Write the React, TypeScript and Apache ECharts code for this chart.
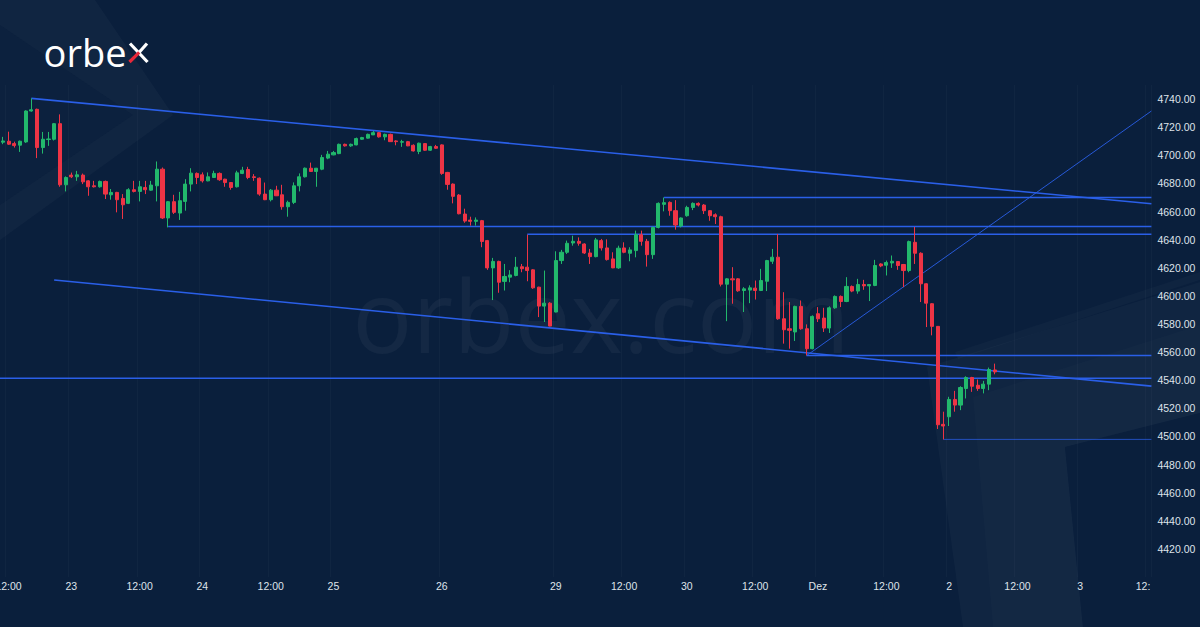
import React, { useEffect, useRef } from 'react';
import * as echarts from 'echarts';

// ---- time axis (hourly candles) ----
const DAY_NAMES = ['22', '23', '24', '25', '26', '29', '30', 'Dez', '2', '3'];
const DAY_FIRST_HOUR = [11, 0, 0, 0, 0, 0, 0, 0, 0, 0];
const DAY_HOURS = [12, 23, 23, 19, 20, 23, 23, 23, 23, 13];

// category -> visible tick label
const TICK_CATEGORIES = ['22 12:00', '23 00:00', '23 12:00', '24 00:00', '24 12:00', '25 00:00', '26 00:00', '29 00:00', '29 12:00', '30 00:00', '30 12:00', 'Dez 00:00', 'Dez 12:00', '2 00:00', '2 12:00', '3 00:00', '3 12:00'];
const TICK_TEXTS = ['12:00', '23', '12:00', '24', '12:00', '25', '26', '29', '12:00', '30', '12:00', 'Dez', '12:00', '2', '12:00', '3', '12:'];

// ---- price ticks ----
const Y_MIN = 4400;
const Y_MAX = 4750;
const Y_STEP = 20;

// ---- OHLC ----
const OPEN = [
  4709.3, 4710.0, 4708.3, 4707.2, 4709.5, 4731.5, 4732.7, 4705.5, 4711.2, 4711.4,
  4722.5, 4679.0, 4685.9, 4684.7, 4685.9, 4681.8, 4678.3, 4677.6, 4681.4, 4671.9,
  4673.6, 4669.3, 4665.8, 4675.5, 4674.3, 4677.1, 4675.2, 4678.3, 4690.1, 4655.4,
  4667.0, 4658.9, 4667.2, 4679.5, 4687.1, 4686.1, 4681.8, 4684.2, 4687.1, 4683.0,
  4680.6, 4677.6, 4687.1, 4689.9, 4684.7, 4683.7, 4672.4, 4668.4, 4675.2, 4671.9,
  4663.4, 4666.5, 4678.3, 4684.7, 4690.8, 4688.5, 4690.1, 4698.0, 4700.3, 4701.2,
  4707.8, 4706.7, 4707.4, 4711.4, 4712.2, 4714.5, 4716.1, 4713.1, 4714.9, 4710.2,
  4709.3, 4709.7, 4707.1, 4702.7, 4708.3, 4703.6, 4706.2, 4707.4, 4687.8, 4679.5,
  4671.7, 4658.2, 4653.9, 4653.0, 4653.5, 4639.3, 4619.9, 4624.5, 4610.3, 4613.3,
  4614.5, 4620.7, 4620.4, 4618.5, 4606.2, 4592.7, 4594.8, 4588.5, 4625.1, 4631.0,
  4637.6, 4638.8, 4636.9, 4630.5, 4627.9, 4639.3, 4634.1, 4626.3, 4619.9, 4634.1,
  4630.3, 4632.2, 4643.5, 4638.8, 4629.3, 4648.7, 4665.1, 4666.5, 4660.6, 4649.7,
  4657.0, 4662.9, 4665.8, 4664.6, 4660.6, 4657.7, 4656.3, 4608.3, 4612.1, 4612.1,
  4603.8, 4604.1, 4605.5, 4603.8, 4610.4, 4624.6, 4627.5, 4583.7, 4576.6, 4574.3,
  4592.5, 4576.6, 4562.4, 4587.3, 4584.2, 4577.1, 4591.5, 4599.6, 4596.0, 4606.7,
  4603.4, 4608.1, 4607.1, 4607.4, 4622.7, 4621.8, 4623.4, 4624.4, 4622.3, 4618.0,
  4638.1, 4630.3, 4608.6, 4594.4, 4578.3, 4508.6, 4514.0, 4526.3, 4522.3, 4534.1,
  4541.9, 4536.4, 4534.1, 4537.2, 4547.3,
];
const CLOSE = [
  4710.2, 4707.9, 4706.9, 4710.0, 4731.5, 4732.4, 4705.5, 4711.4, 4711.6, 4722.5,
  4679.0, 4684.2, 4684.7, 4686.1, 4681.1, 4677.6, 4677.6, 4681.4, 4672.4, 4673.6,
  4668.4, 4664.8, 4675.5, 4674.3, 4677.6, 4675.5, 4678.8, 4690.1, 4655.4, 4667.0,
  4659.4, 4667.7, 4679.5, 4687.3, 4684.2, 4681.8, 4684.7, 4687.1, 4682.6, 4680.6,
  4677.1, 4687.5, 4689.4, 4684.2, 4684.2, 4672.4, 4668.4, 4675.2, 4671.2, 4663.4,
  4666.5, 4678.3, 4684.7, 4690.8, 4688.5, 4690.8, 4698.4, 4700.8, 4701.9, 4707.8,
  4706.7, 4707.8, 4711.9, 4712.6, 4714.9, 4716.1, 4713.1, 4714.9, 4709.7, 4709.7,
  4709.7, 4706.7, 4703.1, 4708.6, 4703.6, 4706.2, 4705.0, 4687.1, 4679.3, 4670.8,
  4658.4, 4653.2, 4653.0, 4653.9, 4638.7, 4619.9, 4624.5, 4609.7, 4613.8, 4614.9,
  4620.4, 4619.3, 4618.0, 4605.7, 4592.7, 4594.8, 4578.5, 4625.1, 4631.0, 4637.4,
  4638.8, 4637.4, 4630.5, 4627.9, 4639.8, 4634.1, 4625.8, 4619.9, 4633.9, 4631.0,
  4632.7, 4643.5, 4638.8, 4629.3, 4648.7, 4665.8, 4666.3, 4660.6, 4650.4, 4655.4,
  4662.9, 4665.8, 4664.6, 4660.6, 4657.0, 4656.3, 4608.3, 4612.1, 4611.4, 4603.6,
  4605.0, 4605.7, 4603.8, 4610.9, 4625.1, 4627.5, 4583.7, 4575.9, 4575.5, 4592.5,
  4576.6, 4562.4, 4585.4, 4583.7, 4577.1, 4591.5, 4599.6, 4596.0, 4606.7, 4603.4,
  4608.1, 4607.1, 4608.1, 4621.6, 4621.3, 4623.7, 4624.6, 4621.6, 4618.0, 4638.6,
  4630.3, 4608.6, 4594.8, 4578.3, 4508.3, 4507.4, 4526.3, 4522.3, 4534.8, 4541.9,
  4535.7, 4534.1, 4537.2, 4547.6, 4545.9,
];
const LOW = [
  4707.9, 4707.4, 4705.5, 4702.4, 4708.8, 4731.0, 4698.0, 4701.2, 4706.7, 4710.5,
  4677.6, 4674.3, 4683.8, 4681.8, 4679.5, 4671.2, 4677.1, 4677.0, 4668.9, 4668.4,
  4659.4, 4654.7, 4665.3, 4673.6, 4667.2, 4672.4, 4674.8, 4667.2, 4654.7, 4648.7,
  4658.2, 4654.0, 4660.6, 4674.3, 4679.5, 4680.6, 4681.5, 4684.0, 4681.8, 4677.6,
  4675.5, 4677.1, 4686.6, 4683.0, 4681.8, 4671.2, 4668.1, 4667.2, 4671.0, 4661.3,
  4656.3, 4665.3, 4674.3, 4684.2, 4688.2, 4677.6, 4689.4, 4697.2, 4700.0, 4700.8,
  4706.2, 4706.0, 4707.1, 4710.9, 4711.9, 4714.5, 4712.6, 4710.7, 4709.5, 4707.1,
  4706.0, 4706.5, 4702.7, 4700.8, 4703.1, 4703.1, 4704.5, 4686.1, 4675.5, 4665.8,
  4658.0, 4652.0, 4650.0, 4650.0, 4634.6, 4618.5, 4597.0, 4602.2, 4603.8, 4609.7,
  4613.9, 4616.8, 4610.4, 4605.0, 4584.9, 4581.4, 4578.3, 4588.3, 4622.7, 4629.8,
  4635.7, 4635.7, 4629.8, 4622.7, 4627.4, 4632.2, 4625.1, 4619.7, 4619.2, 4630.3,
  4624.6, 4627.4, 4635.7, 4620.8, 4626.3, 4648.0, 4660.1, 4657.0, 4647.1, 4648.7,
  4656.3, 4661.0, 4663.6, 4658.2, 4653.4, 4651.1, 4606.7, 4582.0, 4594.4, 4602.9,
  4588.5, 4594.8, 4597.4, 4603.4, 4603.4, 4622.7, 4583.0, 4566.0, 4562.4, 4567.9,
  4575.9, 4557.7, 4562.0, 4581.4, 4574.3, 4573.6, 4590.8, 4592.0, 4595.5, 4602.6,
  4601.5, 4604.3, 4596.3, 4606.9, 4620.4, 4614.5, 4619.9, 4618.5, 4606.2, 4616.8,
  4622.7, 4595.6, 4577.8, 4571.9, 4505.3, 4497.9, 4507.4, 4517.6, 4518.7, 4527.0,
  4531.7, 4532.4, 4530.6, 4532.9, 4544.2,
];
const HIGH = [
  4713.1, 4716.8, 4709.7, 4710.5, 4732.0, 4740.5, 4733.2, 4716.6, 4716.6, 4723.0,
  4729.1, 4685.0, 4687.7, 4688.9, 4687.0, 4682.3, 4681.8, 4682.0, 4682.0, 4676.0,
  4674.0, 4672.4, 4676.6, 4681.8, 4681.8, 4681.8, 4681.8, 4695.6, 4691.3, 4667.5,
  4671.9, 4674.0, 4683.0, 4690.8, 4687.8, 4687.8, 4687.8, 4689.0, 4687.8, 4683.3,
  4681.0, 4689.0, 4691.8, 4691.8, 4686.6, 4684.2, 4680.6, 4676.0, 4678.3, 4679.0,
  4667.7, 4680.7, 4687.1, 4691.3, 4694.8, 4691.0, 4700.3, 4703.1, 4703.1, 4708.3,
  4708.3, 4708.3, 4712.6, 4713.1, 4715.4, 4717.3, 4716.6, 4715.4, 4715.4, 4710.7,
  4711.0, 4710.2, 4707.8, 4709.0, 4708.6, 4706.7, 4707.4, 4707.8, 4688.2, 4680.0,
  4672.4, 4662.0, 4656.3, 4655.8, 4654.0, 4639.8, 4627.0, 4625.0, 4622.7, 4618.3,
  4627.7, 4622.7, 4643.5, 4619.0, 4606.5, 4618.0, 4595.5, 4631.7, 4632.7, 4639.3,
  4642.8, 4641.6, 4637.4, 4633.4, 4641.2, 4640.5, 4640.2, 4631.0, 4635.7, 4638.1,
  4634.6, 4646.4, 4646.4, 4640.5, 4649.2, 4666.5, 4670.0, 4667.2, 4668.1, 4655.8,
  4664.1, 4666.5, 4666.5, 4665.3, 4661.0, 4658.7, 4657.0, 4612.6, 4620.4, 4612.6,
  4606.2, 4607.5, 4610.9, 4619.2, 4625.6, 4633.4, 4644.0, 4602.6, 4595.6, 4593.0,
  4596.7, 4579.7, 4586.1, 4592.0, 4591.5, 4592.5, 4600.3, 4600.3, 4613.3, 4607.4,
  4612.1, 4611.4, 4608.3, 4625.6, 4623.2, 4625.1, 4628.7, 4624.6, 4622.7, 4639.3,
  4649.0, 4631.0, 4609.0, 4594.8, 4578.5, 4517.6, 4528.2, 4532.4, 4535.7, 4542.8,
  4542.4, 4540.5, 4539.5, 4549.0, 4551.8,
];

// ---- drawn lines: [startIndex, startPrice, endIndex, endPrice] ----
const CHANNEL_UPPER = [5, 4740.5, 201.5, 4665.5];
const CHANNEL_LOWER = [9, 4611.3, 201.5, 4535.8];
const RISING_LINE = [141, 4557.5, 201.5, 4731.5];
const LEVEL_STARTS = [29, 92, 116, -0.5, 141];
const LEVEL_PRICES = [4649.3, 4643.8, 4670.0, 4541.3, 4557.5];
const THIN_LEVEL = [165, 4497.9, 201.5, 4497.9];

const UP = '#22b86c';
const DOWN = '#ee3445';
const LINE_BLUE = '#2a5fe8';
const LABEL_COLOR = '#dfe3ea';
const AXIS_FONT = '"Liberation Sans", sans-serif';
const AXIS_FONT_SIZE = 10.5;

export default function App() {
  const ref = useRef<HTMLDivElement>(null);

  useEffect(() => {
    if (!ref.current) return;
    const chart = echarts.init(ref.current, null, { renderer: 'svg' });

    const categories: string[] = [];
    DAY_NAMES.forEach((d, k) => {
      for (let h = 0; h < DAY_HOURS[k]; h++) {
        const hh = String(DAY_FIRST_HOUR[k] + h).padStart(2, '0');
        categories.push(`${d} ${hh}:00`);
      }
    });
    const tickMap: Record<string, string> = {};
    TICK_CATEGORIES.forEach((c, k) => (tickMap[c] = TICK_TEXTS[k]));
    const nCat = categories.length;

    const candleData = categories.map((_, i) =>
      i < OPEN.length ? [OPEN[i], CLOSE[i], LOW[i], HIGH[i]] : '-'
    );

    const seg = (s: number[], width: number, opacity = 1) => ({
      type: 'line',
      xAxisIndex: 1,
      yAxisIndex: 0,
      data: [
        [s[0], s[1]],
        [s[2], s[3]],
      ],
      symbol: 'none',
      silent: true,
      z: 3,
      lineStyle: { color: LINE_BLUE, width, opacity },
    });

    const lineSeries: any[] = [
      seg(CHANNEL_UPPER, 1.6),
      seg(CHANNEL_LOWER, 1.6),
      seg(RISING_LINE, 1, 0.9),
      seg(THIN_LEVEL, 1, 0.75),
      ...LEVEL_STARTS.map((s, k) => seg([s, LEVEL_PRICES[k], nCat - 0.5, LEVEL_PRICES[k]], 1.5)),
    ];

    const showTick = (_idx: number, val: string) => tickMap[val] !== undefined;

    const option: any = {
      animation: false,
      backgroundColor: '#0a1f3c',
      graphic: [
        // decorative background shapes
        { type: 'polygon', z: 0, shape: { points: [[0, 0], [95, 0], [173, 115], [0, 240], [0, 205], [133, 115], [0, 25]] }, style: { fill: 'rgba(255,255,255,0.028)' } },
        { type: 'polygon', z: 0, shape: { points: [[0, 25], [133, 115], [0, 205]] }, style: { fill: 'rgba(255,255,255,0.012)' } },
        { type: 'polygon', z: 0, shape: { points: [[927, 367], [1200, 282], [1200, 413], [1065, 447], [1083, 627], [963, 627]] }, style: { fill: 'rgba(255,255,255,0.028)' } },
        { type: 'polygon', z: 0, shape: { points: [[973, 397], [1200, 325], [1200, 413], [1065, 447], [1083, 627], [993, 627]] }, style: { fill: 'rgba(255,255,255,0.015)' } },
        { type: 'polygon', z: 0, shape: { points: [[955, 352], [1200, 272], [1200, 280], [958, 359]] }, style: { fill: 'rgba(255,255,255,0.025)' } },
        {
          type: 'text', z: 0, x: 601, y: 314,
          style: { text: 'orbex.com', fill: 'rgba(255,255,255,0.045)', font: '100px "Open Sans"', textAlign: 'center', textVerticalAlign: 'middle' },
        },
        // logo
        {
          type: 'text', z: 10, x: 126.5, y: 51.5,
          style: { text: 'orbe', fill: '#ffffff', font: '38px "Open Sans"', textAlign: 'right', textVerticalAlign: 'middle' },
        },
        { type: 'line', z: 10, shape: { x1: 130, y1: 43.5, x2: 147.5, y2: 62 }, style: { stroke: '#ffffff', lineWidth: 3.2 } },
        { type: 'line', z: 10, shape: { x1: 138.8, y1: 52.8, x2: 147, y2: 43.5 }, style: { stroke: '#ffffff', lineWidth: 3.2 } },
        { type: 'line', z: 11, shape: { x1: 129.5, y1: 62, x2: 139.2, y2: 52.4 }, style: { stroke: '#e8283a', lineWidth: 3.2 } },
      ],
      grid: { left: 0, right: 48.6, top: 85, bottom: 50, containLabel: false, outerBoundsMode: 'none' },
      xAxis: [
        {
          type: 'category',
          data: categories,
          boundaryGap: true,
          axisLine: { show: false },
          axisTick: { show: false },
          axisLabel: {
            interval: showTick,
            margin: 3,
            color: LABEL_COLOR,
            fontSize: AXIS_FONT_SIZE,
            fontFamily: AXIS_FONT,
            formatter: (val: string) => {
              const t = tickMap[val] ?? '';
              return t === '12:' ? '{cut|12:}' : t;
            },
            rich: {
              cut: { color: LABEL_COLOR, fontSize: AXIS_FONT_SIZE, fontFamily: AXIS_FONT, padding: [0, 11, 0, 0] },
            },
          },
          splitLine: { show: true, interval: showTick, lineStyle: { color: 'rgba(255,255,255,0.028)', width: 1 } },
        },
        { type: 'value', min: -0.5, max: nCat - 0.5, show: false },
      ],
      yAxis: {
        type: 'value',
        position: 'right',
        min: Y_MIN,
        max: Y_MAX,
        interval: Y_STEP,
        axisLine: { show: false },
        axisTick: { show: false },
        splitLine: { show: false },
        axisLabel: {
          showMinLabel: false,
          showMaxLabel: false,
          margin: 6,
          color: LABEL_COLOR,
          fontSize: AXIS_FONT_SIZE,
          fontFamily: AXIS_FONT,
          formatter: (v: number) => v.toFixed(2),
        },
      },
      series: [
        {
          type: 'candlestick',
          xAxisIndex: 0,
          yAxisIndex: 0,
          data: candleData,
          barWidth: 3.6,
          z: 4,
          itemStyle: { color: UP, color0: DOWN, borderColor: UP, borderColor0: DOWN, borderWidth: 1 },
        },
        ...lineSeries,
      ],
    };

    chart.setOption(option);
    return () => chart.dispose();
  }, []);

  return <div ref={ref} style={{ position: 'fixed', left: 0, top: 0, width: 1200, height: 627 }} />;
}
